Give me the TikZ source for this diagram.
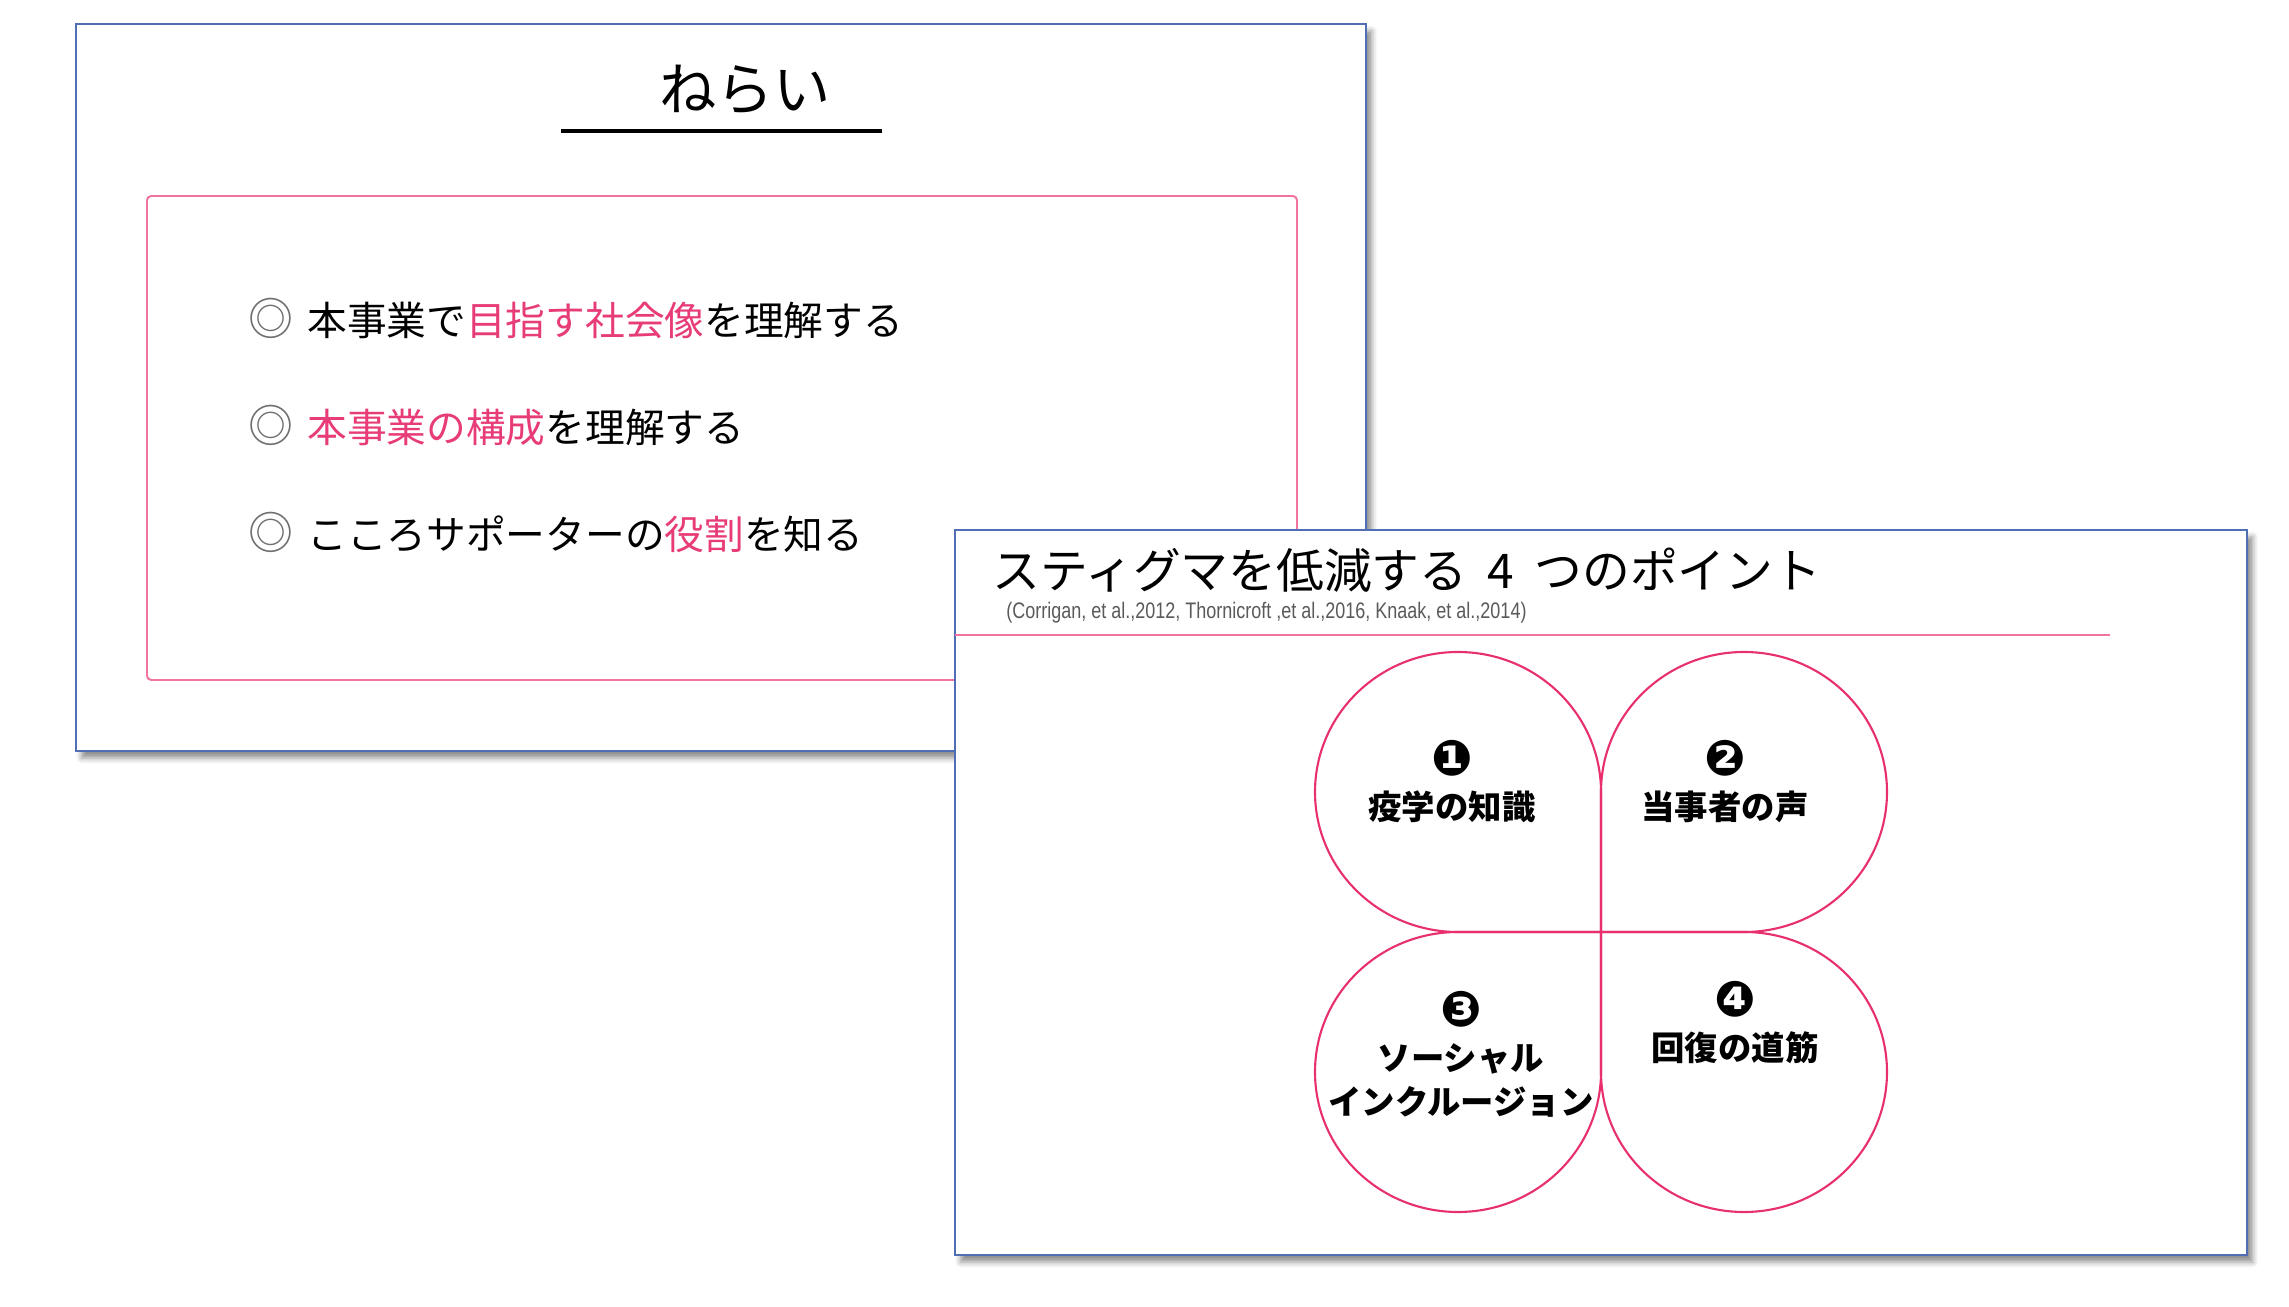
\documentclass[tikz,border=0pt]{standalone}
\usepackage{fontspec}
\setmainfont{Noto Sans CJK JP}
\newfontfamily\numfont{DejaVu Sans}
\newfontfamily\citefont[FakeStretch=0.8]{Liberation Sans}
\usetikzlibrary{shadows.blur}

\definecolor{slideblue}{RGB}{80,110,180}
\definecolor{hotpink}{RGB}{232,60,120}
\definecolor{leafpink}{RGB}{232,48,110}
\definecolor{boxpink}{RGB}{240,115,160}
\definecolor{ringgray}{RGB}{110,110,110}
\definecolor{citegray}{RGB}{90,90,90}

\tikzset{
  slide/.style={draw=slideblue,line width=0.45pt,fill=white,
    blur shadow={shadow xshift=1.6pt,shadow yshift=-2pt,shadow blur radius=1.6pt,shadow opacity=45}},
  leaf/.style={draw=leafpink,line width=0.6pt},
  aim/.style={anchor=west,font=\fontsize{11.3}{13}\selectfont},
  leaftext/.style={align=center,font=\fontsize{9.5}{12.5}\selectfont\bfseries},
}
\newcommand{\hl}[1]{\textcolor{hotpink}{#1}}
\newcommand{\ring}{{\fontsize{12.8}{13}\selectfont\textcolor{ringgray}{◎}}\hspace{0.35em}}
\newcommand{\numc}[1]{{\numfont\fontsize{14}{12}\selectfont #1}}

\begin{document}
\begin{tikzpicture}[x=0.1mm,y=-0.1mm]
			\useasboundingbox (0,0) rectangle (2289,1307);
			% Slide 1: aims
			\draw[slide] (76,24) rectangle (1366,751);
			\node (AimTitle) at (745,90) {\fontsize{16.3}{18}\selectfont ねらい};
			\draw[line width=1.1pt] (561,131) -- (882,131);
			\draw[boxpink,line width=0.55pt,rounded corners=1.2pt] (147,196) rectangle (1297,680);
			\node[aim] (AimOne) at (236,318) {\ring 本事業で\hl{目指す社会像}を理解する};
			\node[aim] (AimTwo) at (236,426) {\ring \hl{本事業の構成}を理解する};
			\node[aim] (AimThree) at (236,532) {\ring こころサポーターの\hl{役割}を知る};
			
			% Slide 2: four points
			\draw[slide] (955,530) rectangle (2247,1255);
			\node[anchor=west] (PointTitle) at (980,570) {\fontsize{13.6}{15}\selectfont スティグマを低減する\hspace{0.2em} 4 \hspace{0.2em}つのポイント};
			\node[anchor=west,text=citegray] (PointCite) at (994,613) {\citefont\fontsize{6.4}{7}\selectfont (Corrigan, et al.,2012, Thornicroft ,et al.,2016, Knaak, et al.,2014)};
			\draw[boxpink,line width=0.8pt] (955,635) -- (2110,635);
			
			\coordinate (Hub) at (1601,932);
			\draw[leaf] (Hub) -- ++(-143,0) arc[start angle=90,end angle=360,x radius=143,y radius=140] -- cycle;
			\draw[leaf] (Hub) -- ++(0,-140) arc[start angle=180,end angle=450,x radius=143,y radius=140] -- cycle;
			\draw[leaf] (Hub) -- ++(0,140) arc[start angle=0,end angle=270,x radius=143,y radius=140] -- cycle;
			\draw[leaf] (Hub) -- ++(143,0) arc[start angle=-90,end angle=180,x radius=143,y radius=140] -- cycle;
			
			\node[leaftext] (LeafKnow) at (1452,782) {\numc{❶}\\疫学の知識};
			\node[leaftext] (LeafVoice) at (1725,782) {\numc{❷}\\当事者の声};
			\node[leaftext] (LeafSocial) at (1461,1054) {\numc{❸}\\ソーシャル\\インクルージョン};
			\node[leaftext] (LeafRecover) at (1735,1023) {\numc{❹}\\回復の道筋};
			
			\end{tikzpicture}
\end{document}
